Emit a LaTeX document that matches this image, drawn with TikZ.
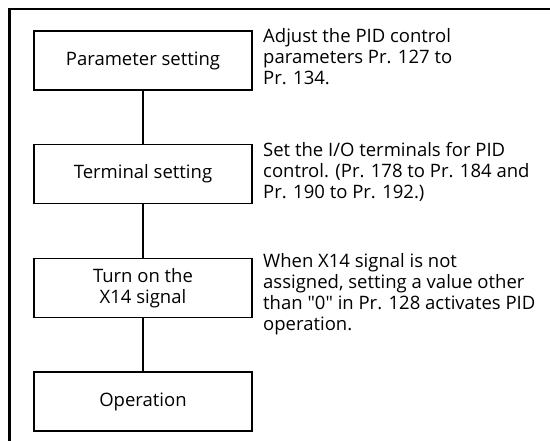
\documentclass[tikz,border=0pt]{standalone}
\usepackage{fontspec}
\setmainfont{Open Sans}[Ligatures=TeXOff]
\begin{document}
\begin{tikzpicture}[x=1pt,y=-1pt,
  stepbox/.style={draw,line width=1.6pt,minimum width=218pt,minimum height=59pt,align=center,inner sep=0pt,font=\fontsize{18.5}{20.7}\selectfont},
  note/.style={anchor=base west,align=left,inner sep=0pt,font=\fontsize{18.5}{20.7}\selectfont},
  link/.style={line width=1.6pt}]
\useasboundingbox (0,0) rectangle (550,441);
\draw[line width=2.6pt] (9.5,441) -- (9.5,9) -- (550,9);
\node[stepbox] (p) at (143,60.5) {Parameter setting};
\node[stepbox] (t) at (143,174) {Terminal setting};
\node[stepbox] (x) at (143,288) {Turn on the\\X14 signal};
\node[stepbox] (o) at (143,401.5) {Operation};
\draw[link] (p) -- (t);
\draw[link] (t) -- (x);
\draw[link] (x) -- (o);
\node[note] (n1) at (263,84.4) {Adjust the PID control\\parameters Pr. 127 to\\Pr. 134.};
\node[note] (n2) at (263,198.4) {Set the I/O terminals for PID\\control. (Pr. 178 to Pr. 184 and\\Pr. 190 to Pr. 192.)};
\node[note] (n3) at (263,330.1) {When X14 signal is not\\assigned, setting a value other\\than "0" in Pr. 128 activates PID\\operation.};
\end{tikzpicture}
\end{document}
